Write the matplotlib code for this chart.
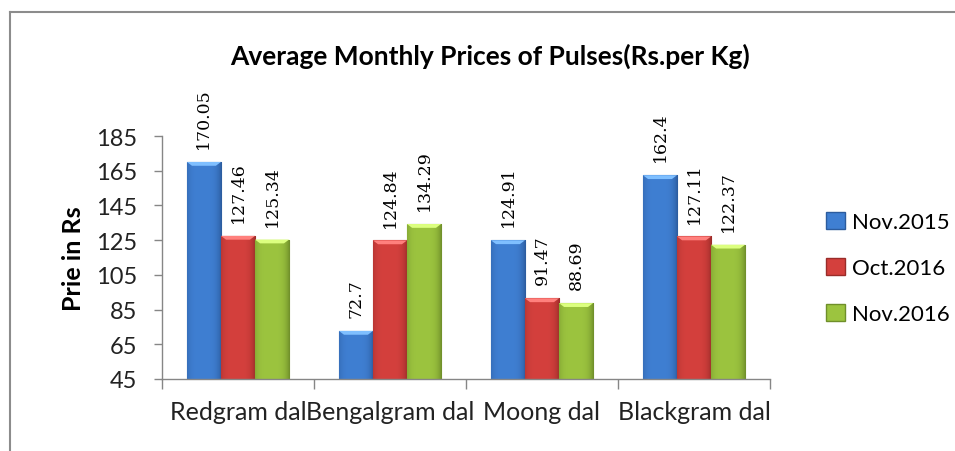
import matplotlib.pyplot as plt
import numpy as np
from matplotlib.patches import Patch
from matplotlib.lines import Line2D
from matplotlib.colors import to_rgb

# Data
categories = ['Redgram dal', 'Bengalgram dal', 'Moong dal', 'Blackgram dal']
series_names = ['Nov.2015', 'Oct.2016', 'Nov.2016']
nov_2015 = [170.05, 72.7, 124.91, 162.4]
oct_2016 = [127.46, 124.84, 91.47, 127.11]
nov_2016 = [125.34, 134.29, 88.69, 122.37]
label_texts = [['170.05', '72.7', '124.91', '162.4'],
               ['127.46', '124.84', '91.47', '127.11'],
               ['125.34', '134.29', '88.69', '122.37']]
y_ticks = [45, 65, 85, 105, 125, 145, 165, 185]

colors = ['#3F7FD2', '#D4403D', '#9CC43F']
edge_colors = ['#2C5C9E', '#9A2C29', '#6F8F2A']

plt.rcParams['font.family'] = ['Lato', 'DejaVu Sans']


def shade_bar(ax, bar, base, edge):
    """Paint a horizontal gradient into the bar so it looks like the Excel bevel."""
    x0, w, h = bar.get_x(), bar.get_width(), bar.get_height()
    y0 = bar.get_y()
    b = np.array(to_rgb(base))
    d = np.array(to_rgb(edge))
    t = np.linspace(0, 1, 60)
    # dark edges, bright body
    prof = np.clip(1 - (np.abs(t - 0.45) / 0.55) ** 4, 0, 1)
    row = d[None, :] * (1 - prof[:, None]) + b[None, :] * prof[:, None]
    img = np.repeat(row[None, :, :], 2, axis=0)
    im = ax.imshow(img, extent=(x0, x0 + w, y0, y0 + h), aspect='auto',
                   zorder=2, interpolation='bilinear')
    im.set_clip_path(bar)
    # lighter cap on top
    cap = 2.2
    top = np.clip(b + 0.25, 0, 1)
    ax.fill([x0, x0 + w, x0 + w * 0.85, x0 + w * 0.15],
            [y0 + h, y0 + h, y0 + h - cap, y0 + h - cap],
            color=top, zorder=3, lw=0)


fig = plt.figure(figsize=(9.55, 4.52), dpi=100)
ax = fig.add_axes([0.1696, 0.1593, 0.6367, 0.5376])

x = np.arange(len(categories))
width = 0.224
values = [nov_2015, oct_2016, nov_2016]
for i, vals in enumerate(values):
    offs = (i - 1) * width
    bars = ax.bar(x + offs, np.array(vals) - 45, width, bottom=45,
                  color=colors[i], edgecolor=edge_colors[i], linewidth=0.8,
                  zorder=2, label=series_names[i])
    for bar in bars:
        shade_bar(ax, bar, colors[i], edge_colors[i])
    for xi, v, txt in zip(x + offs, vals, label_texts[i]):
        ax.annotate(txt, (xi, v), xytext=(0, 10), textcoords='offset points',
                    rotation=90, ha='center', va='bottom', fontsize=12.5,
                    family=['DejaVu Serif'], annotation_clip=False)

ax.set_xlim(-0.5, len(categories) - 0.5)
ax.set_ylim(45, 185)
ax.set_yticks(y_ticks)
ax.set_xticks(x)
ax.set_xticklabels(categories, fontsize=18, color='#222222')
ax.set_xticks(np.arange(len(categories) + 1) - 0.5, minor=True)
ax.tick_params(axis='x', which='major', length=0, pad=15)
ax.tick_params(axis='x', which='minor', length=7, color='#868686', width=1)
ax.tick_params(axis='y', length=6, color='#868686', width=1, labelsize=17,
               labelcolor='#222222', pad=12)
for s in ['top', 'right']:
    ax.spines[s].set_visible(False)
for s in ['left', 'bottom']:
    ax.spines[s].set_color('#868686')
    ax.spines[s].set_linewidth(1)

ax.set_ylabel('Prie in Rs', fontsize=18, fontweight='bold', labelpad=8)
fig.text(0.513, 0.876, 'Average Monthly Prices of Pulses(Rs.per Kg)',
         ha='center', va='center', fontsize=19, fontweight='bold')

handles = [Patch(facecolor=colors[i], edgecolor=edge_colors[i])
           for i in range(len(series_names))]
fig.legend(handles, series_names, loc='center left',
           bbox_to_anchor=(0.844, 0.405), frameon=False, fontsize=16,
           handlelength=0.85, handleheight=0.85, handletextpad=0.3,
           labelspacing=1.15)

# outer chart frame (cut at right and bottom like the screenshot)
fig.add_artist(Line2D([0.0105, 1.0], [0.971, 0.971], color='#8c8c8c', lw=1.5,
                      transform=fig.transFigure))
fig.add_artist(Line2D([0.0105, 0.0105], [0.0, 0.971], color='#8c8c8c', lw=1.5,
                      transform=fig.transFigure))

fig.savefig('out.png', dpi=100)
plt.close('all')
